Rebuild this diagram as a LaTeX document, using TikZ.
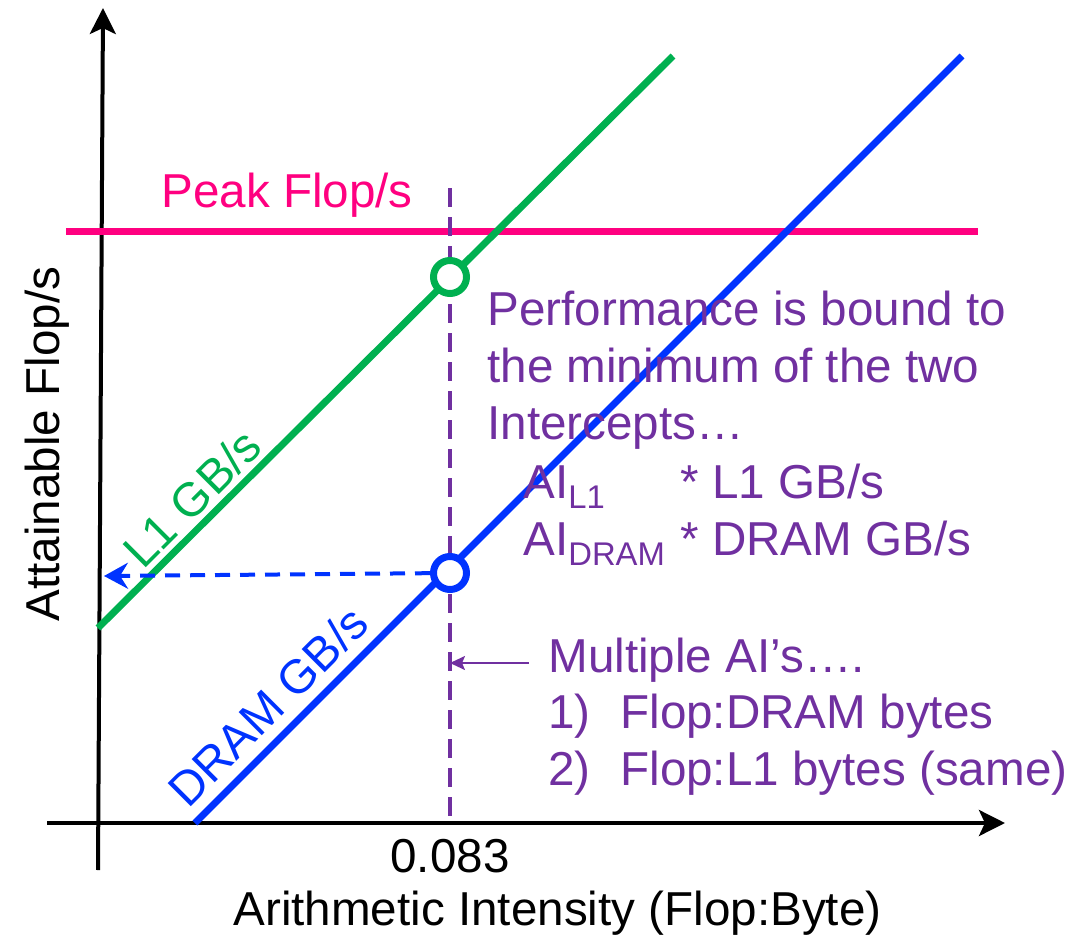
\documentclass[tikz,border=0pt]{standalone}
\usepackage{fontspec}
\setmainfont{Liberation Sans}
\usetikzlibrary{arrows.meta,positioning}

\definecolor{peakpink}{RGB}{255,0,128}
\definecolor{cachegreen}{RGB}{0,176,80}
\definecolor{drawblue}{RGB}{0,51,255}
\definecolor{notepurple}{RGB}{112,48,160}

\begin{document}
\begin{tikzpicture}[
  x=0.5pt, y=-0.5pt,
  font=\fontsize{23.8}{28}\selectfont,
  axis/.style={line width=2pt, -{Stealth[length=13pt,width=13pt,inset=3pt]}},
  roof/.style={line width=3.5pt},
  knee/.style={
    circle,
    fill=white,
    line width=3.5pt,
    minimum size=16.5pt,
    inner sep=0pt
  },
  guide/.style={draw=notepurple, line width=1.6pt, dash pattern=on 9.5pt off 5pt},
  note/.style={text=notepurple, anchor=base west, inner sep=0pt},
  lbl/.style={inner sep=0pt, anchor=base}
]
\useasboundingbox (0,0) rectangle (1073,948);

% Axes.
\coordinate (xstart) at (47,823);
\coordinate (xend) at (1005,823);
\coordinate (ystart) at (98,870);
\coordinate (yend) at (103,8);
\draw[axis] (xstart) -- (xend);
\draw[axis] (ystart) -- (yend);

% Roofs: compute ceiling and the two bandwidth slopes.
\coordinate (peakL) at (66,231);
\coordinate (peakR) at (978,231);
\coordinate (l1lo) at (98,628);
\coordinate (l1hi) at (673,56);
\coordinate (dramlo) at (195,823);
\coordinate (dramhi) at (962,56);
\draw[roof, peakpink] (peakL) -- (peakR);
\draw[roof, cachegreen] (l1lo) -- (l1hi);
\draw[roof, drawblue] (dramlo) -- (dramhi);

\node[lbl, anchor=base west, text=peakpink] (peaklbl) at (161,207) {Peak Flop/s};
\node[lbl, rotate=45, text=cachegreen] (l1lbl) at (204,510) {L1 GB/s};
\node[lbl, rotate=45, text=drawblue] (dramlbl) at (280,718) {DRAM GB/s};

% Arithmetic intensity of the kernel.
\coordinate (aitop) at (450,188);
\coordinate (aibot) at (450,823);
\draw[guide] (aitop) -- (aibot);
\node[lbl] (aitick) at (450,872) {0.083};

\coordinate (bwtip) at (104,576);
\node[knee] (drampt) at (450,573) {};
\draw[drawblue, line width=2pt, dash pattern=on 7.5pt off 5pt,
  -{Stealth[length=12pt,width=13pt,inset=4pt]}] (drampt) -- (bwtip);
\node[knee, draw=drawblue] at (drampt) {};
\node[knee, draw=cachegreen] (l1pt) at (450,277) {};

% Axis titles.
\node[lbl, anchor=base west] (xtitle) at (233,925) {Arithmetic Intensity (Flop:Byte)};
\node[lbl, rotate=90] (ytitle) at (60,444) {Attainable Flop/s};

% Notes.
\node[note] (perf1) at (487,325) {Performance is bound to};
\node[note] (perf2) at (487,382) {the minimum of the two};
\node[note] (perf3) at (487,439) {Intercepts…};
\node[note] (ail1) at (523,498)
  {AI\raisebox{-5pt}{\fontsize{16.4}{16}\selectfont L1}};
\node[note] (bwl1) at (680,498) {* L1 GB/s};
\node[note] (aidram) at (523,555)
  {AI\raisebox{-5pt}{\fontsize{16.4}{16}\selectfont DRAM}};
\node[note] (bwdram) at (680,555) {* DRAM GB/s};

\node[note] (multi) at (548,672) {Multiple AI’s….};
\node[note] (num1) at (548,728) {1)};
\node[note] (kind1) at (620,728) {Flop:DRAM bytes};
\node[note] (num2) at (548,785) {2)};
\node[note] (kind2) at (620,785) {Flop:L1 bytes (same)};

\draw[notepurple, line width=1pt, -{Stealth[length=7.5pt,width=7pt,inset=1.5pt]}]
  ([xshift=-9.5pt,yshift=4.5pt]multi.base west) -- ([yshift=4.5pt]multi.base west -| aibot);

\end{tikzpicture}
\end{document}
